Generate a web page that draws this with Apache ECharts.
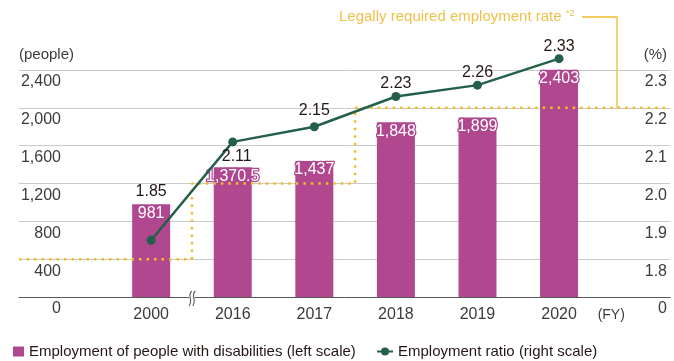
<!DOCTYPE html>
<html>
<head>
<meta charset="utf-8">
<script src="https://cdn.jsdelivr.net/npm/echarts@6/dist/echarts.min.js"></script>
<style>
  html, body { margin: 0; padding: 0; background: #ffffff; }
  #chart { width: 674px; height: 361px; }
</style>
</head>
<body>
<div id="chart"></div>
<script>
// Fiscal years on the horizontal axis (2001–2015 are skipped, marked by a break)
const fiscalYears = ['2000', '2016', '2017', '2018', '2019', '2020'];
// Number of employees with disabilities (left scale, people)
const employees = [981, 1370.5, 1437, 1848, 1899, 2403];
// Employment ratio (right scale, %)
const employmentRatio = [1.85, 2.11, 2.15, 2.23, 2.26, 2.33];
// Legally required employment rate for each fiscal year (%)
const legalRate = [1.8, 2.0, 2.0, 2.2, 2.2, 2.2];
// Left axis ticks (people)
const peopleTicks = { min: 0, max: 2400, step: 400 };
// Right axis ticks (%); the lowest tick is shown as 0 because the scale is broken
const ratioTicks = { min: 1.7, max: 2.3, step: 0.1 };

const BAR_NAME = 'Employment of people with disabilities (left scale)';
const LINE_NAME = 'Employment ratio (right scale)';

const BAR_COLOR = '#b0478f';
const LINE_COLOR = '#245f4a';
const RATE_COLOR = '#f0bd29';
const RATE_TEXT = '#efc049';
const TEXT_DARK = '#231815';
const AXIS_TEXT = '#3e3a39';
const FONT = '"Liberation Sans", Arial, Helvetica, sans-serif';

// Horizontal extent of the plot in category-index units
const X_MIN = -1.62;
const X_MAX = 6.36;

const chart = echarts.init(document.getElementById('chart'), null, { renderer: 'canvas' });

// Step line for the legal rate, stretched across the full plot width
const rateData = [[X_MIN, legalRate[0]]]
  .concat(legalRate.map((v, i) => [i, v]))
  .concat([[X_MAX, legalRate[legalRate.length - 1]]]);

// Per-point label placement for the ratio line
const ratioLabel = [
  { position: 'top', offset: [0, -36] },
  { position: 'bottom', offset: [4, 2] },
  { position: 'top', offset: [0, -4] },
  { position: 'top', offset: [0, 0] },
  { position: 'top', offset: [0, 0] },
  { position: 'top', offset: [0, 0] }
];

const option = {
  animation: false,
  textStyle: { fontFamily: FONT },
  grid: { left: 19, right: 4, top: 70, bottom: 64, containLabel: false },
  legend: [
    {
      data: [{ name: BAR_NAME, icon: 'rect' }],
      left: 8, top: 339,
      itemWidth: 11, itemHeight: 10,
      textStyle: { fontSize: 15, color: TEXT_DARK, fontFamily: FONT }
    },
    {
      data: [{ name: LINE_NAME }],
      left: 371, top: 339,
      itemWidth: 16, itemHeight: 10,
      textStyle: { fontSize: 15, color: TEXT_DARK, fontFamily: FONT }
    }
  ],
  xAxis: {
    type: 'value',
    min: X_MIN,
    max: X_MAX,
    axisLine: { show: true, onZero: false, lineStyle: { color: '#595757', width: 1 } },
    axisTick: { show: false },
    splitLine: { show: false },
    axisLabel: {
      customValues: fiscalYears.map((_, i) => i),
      formatter: v => fiscalYears[Math.round(v)],
      margin: 10,
      fontSize: 16,
      color: AXIS_TEXT
    }
  },
  yAxis: [
    {
      type: 'value',
      position: 'left',
      min: peopleTicks.min,
      max: peopleTicks.max,
      interval: peopleTicks.step,
      axisLine: { show: false },
      axisTick: { show: false },
      splitLine: { show: true, lineStyle: { color: '#c9caca', width: 1 } },
      axisLabel: {
        inside: true,
        align: 'right',
        verticalAlign: 'top',
        padding: [4, 0, 0, 0],
        margin: 42,
        fontSize: 16,
        color: AXIS_TEXT,
        formatter: v => v.toLocaleString('en-US')
      }
    },
    {
      type: 'value',
      position: 'right',
      min: ratioTicks.min,
      max: ratioTicks.max,
      interval: ratioTicks.step,
      axisLine: { show: false },
      axisTick: { show: false },
      splitLine: { show: false },
      axisLabel: {
        inside: true,
        align: 'right',
        verticalAlign: 'top',
        padding: [4, 0, 0, 0],
        margin: 3,
        fontSize: 16,
        color: AXIS_TEXT,
        formatter: v => (v < ratioTicks.min + ratioTicks.step / 2 ? '0' : v.toFixed(1))
      }
    }
  ],
  series: [
    {
      name: 'Legally required employment rate',
      type: 'line',
      yAxisIndex: 1,
      step: 'middle',
      data: rateData,
      symbol: 'none',
      silent: true,
      clip: false,
      lineStyle: { color: RATE_COLOR, width: 2.5, type: [2.5, 5], cap: 'butt' }
    },
    {
      name: BAR_NAME,
      type: 'bar',
      yAxisIndex: 0,
      barWidth: 38,
      clip: false,
      data: employees.map((v, i) => [i, v]),
      itemStyle: { color: BAR_COLOR },
      label: {
        show: true,
        position: 'insideTop',
        distance: 1,
        fontSize: 16,
        color: '#ffffff',
        textBorderColor: BAR_COLOR,
        textBorderWidth: 2.5,
        formatter: p => p.value[1].toLocaleString('en-US')
      }
    },
    {
      name: LINE_NAME,
      type: 'line',
      yAxisIndex: 1,
      clip: false,
      data: employmentRatio.map((v, i) => ({
        value: [i, v],
        label: ratioLabel[i]
      })),
      symbol: 'circle',
      symbolSize: 9,
      itemStyle: { color: LINE_COLOR },
      lineStyle: { color: LINE_COLOR, width: 2.5 },
      label: {
        show: true,
        distance: 0,
        fontSize: 16,
        color: TEXT_DARK,
        formatter: p => p.value[1].toFixed(2)
      },
      z: 3
    }
  ]
};

chart.setOption(option);

// Decorations positioned from the axes: units, break mark, rate callout
const breakX = chart.convertToPixel({ xAxisIndex: 0 }, 0.5);
const axisY = chart.convertToPixel({ yAxisIndex: 0 }, 0);
const topY = chart.convertToPixel({ yAxisIndex: 0 }, peopleTicks.max);
const rateTopY = chart.convertToPixel({ yAxisIndex: 1 }, legalRate[legalRate.length - 1]);
const fyX = chart.convertToPixel({ xAxisIndex: 0 }, 5.64);

function breakStroke(dx) {
  const x = breakX + dx;
  return {
    type: 'bezierCurve',
    shape: { x1: x + 1.5, y1: axisY - 6, cpx1: x - 3.5, cpy1: axisY - 1, cpx2: x + 3.5, cpy2: axisY + 2, x2: x - 1, y2: axisY + 9 },
    style: { stroke: '#595757', lineWidth: 1.1, fill: null },
    z: 100
  };
}

chart.setOption({
  graphic: [
    {
      type: 'text',
      x: 19, y: topY - 15,
      style: { text: '(people)', font: '15px ' + FONT, fill: AXIS_TEXT, align: 'left', verticalAlign: 'middle' },
      z: 100
    },
    {
      type: 'text',
      x: 667, y: topY - 15,
      style: { text: '(%)', font: '15px ' + FONT, fill: AXIS_TEXT, align: 'right', verticalAlign: 'middle' },
      z: 100
    },
    {
      type: 'rect',
      shape: { x: breakX - 3, y: axisY - 2, width: 6, height: 4 },
      style: { fill: '#ffffff' },
      z: 99
    },
    breakStroke(-1.8),
    breakStroke(1.8),
    {
      type: 'text',
      x: fyX, y: axisY + 18,
      style: { text: '(FY)', font: '14px ' + FONT, fill: AXIS_TEXT, align: 'center', verticalAlign: 'middle' },
      z: 100
    },
    {
      type: 'text',
      x: 339, y: 17,
      style: { text: 'Legally required employment rate', font: '15px ' + FONT, fill: RATE_TEXT, align: 'left', verticalAlign: 'middle' },
      z: 100
    },
    {
      type: 'text',
      x: 566, y: 14,
      style: { text: '*2', font: '9px ' + FONT, fill: RATE_TEXT, align: 'left', verticalAlign: 'middle' },
      z: 100
    },
    {
      type: 'polyline',
      shape: { points: [[582, 17], [617, 17], [617, rateTopY]] },
      style: { stroke: RATE_COLOR, lineWidth: 1.3, fill: null },
      z: 100
    }
  ]
});
</script>
</body>
</html>
